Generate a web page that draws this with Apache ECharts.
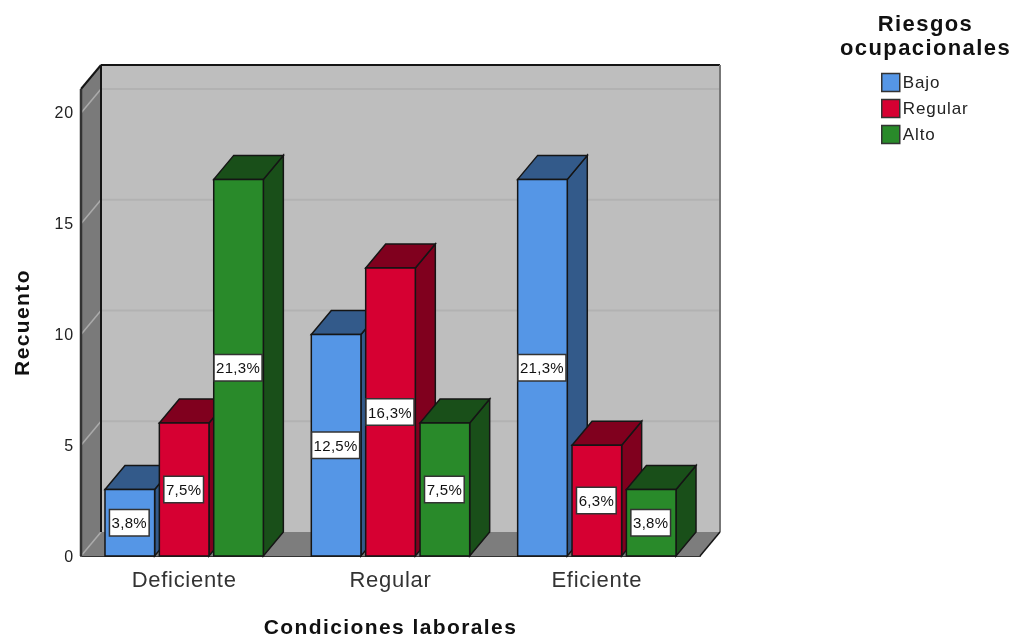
<!DOCTYPE html>
<html><head><meta charset="utf-8">
<style>
html,body{margin:0;padding:0;background:#fff}
#c{width:1012px;height:637px;filter:blur(0.4px)}
#c text[style*="22px"]{letter-spacing:.7px}
#c text[style*="17px"]{letter-spacing:.9px}
#c text[style*="16px"]{letter-spacing:.8px}
#c text[style*="15px"]{letter-spacing:.3px}
#c text[style*="bold"]{letter-spacing:1.4px}
#c text[style*="bold 22px"]{letter-spacing:.4px}
</style>
<script src="https://cdn.jsdelivr.net/npm/echarts@6/dist/echarts.min.js"></script>
</head><body><div id="c"></div>
<script>
const categories = ['Deficiente','Regular','Eficiente'];
const legendTitle = 'Riesgos\nocupacionales';
const xTitle = 'Condiciones laborales';
const yTitle = 'Recuento';
const yTicks = [0,5,10,15,20];
const seriesNames = ['Bajo','Regular','Alto'];
const bajo = [3,10,17];
const regular = [6,13,5];
const alto = [17,6,3];
const bajoPct = ['3,8%','12,5%','21,3%'];
const regularPct = ['7,5%','16,3%','6,3%'];
const altoPct = ['21,3%','7,5%','3,8%'];
const fronts = ['#5596E6','#D60032','#298A2A'];
const tops = ['#335A8A','#80001E','#194F19'];
const values = [bajo,regular,alto];
const pcts = [bajoPct,regularPct,altoPct];

const DX=20, DY=24, BAR=0.2405, PITCH=0.2635, LINE='#151515';
const font='"Liberation Sans", Arial, sans-serif';

function poly(points,fill,stroke,lw){
  return {type:'polygon',shape:{points},style:{fill,stroke:stroke||null,lineWidth:lw||0}};
}
function line(x1,y1,x2,y2,stroke,lw){
  return {type:'line',shape:{x1,y1,x2,y2},style:{stroke,lineWidth:lw}};
}
function renderWalls(params,api){
  const c=params.coordSys, l=c.x, r=c.x+c.width, t=c.y, b=c.y+c.height;
  const kids=[
    poly([[l+DX,t-DY],[r+DX,t-DY],[r+DX,b-DY],[l+DX,b-DY]],'#BEBEBE'),
    poly([[l,t],[l+DX,t-DY],[l+DX,b-DY],[l,b]],'#7A7A7A'),
    poly([[l,b],[l+DX,b-DY],[r+DX,b-DY],[r,b]],'#7D7D7D')
  ];
  yTicks.forEach(v=>{
    const y=api.coord([0,v])[1];
    if(v>0) kids.push(line(l+DX,y-DY,r+DX,y-DY,'#B2B2B2',2));
    kids.push(line(l,y,l+DX,y-DY,'#ABABAB',1.5));
  });
  kids.push(line(l+DX,t-DY,r+DX,t-DY,LINE,2));
  kids.push(line(l+DX,t-DY,l+DX,b-DY,LINE,2));
  kids.push(line(l,t,l+DX,t-DY,LINE,2));
  kids.push(line(l,t,l,b,'#333',2.5));
  kids.push(line(r+DX,t-DY,r+DX,b-DY,'#777',2));
  kids.push(line(r,b,r+DX,b-DY,LINE,1.5));
  return {type:'group',children:kids};
}
function barRender(si){
  return function(params,api){
    const cat=api.value(0), val=api.value(1);
    const top=api.coord([cat,val]), base=api.coord([cat,0]);
    const band=api.size([1,0])[0];
    const cx=top[0]+(si-1)*band*PITCH, w=band*BAR;
    const x0=cx-w/2, x1=cx+w/2, y0=top[1], y1=base[1];
    const st=LINE, lw=1.5;
    return {type:'group',children:[
      poly([[x1,y0],[x1+DX,y0-DY],[x1+DX,y1-DY],[x1,y1]],tops[si],st,lw),
      poly([[x0,y0],[x0+DX,y0-DY],[x1+DX,y0-DY],[x1,y0]],tops[si],st,lw),
      poly([[x0,y0],[x1,y0],[x1,y1],[x0,y1]],fronts[si],st,lw)
    ]};
  };
}
function labelRender(si){
  return function(params,api){
    const cat=api.value(0), val=api.value(1);
    const top=api.coord([cat,val]), base=api.coord([cat,0]);
    const band=api.size([1,0])[0];
    const cx=top[0]+(si-1)*band*PITCH;
    return {type:'text',style:{
      x:cx-0.5,y:(top[1]+base[1])/2,text:pcts[si][params.dataIndex],
      align:'center',verticalAlign:'middle',
      font:'15px '+font,fill:'#111',
      backgroundColor:'#fff',borderColor:'#333',borderWidth:1.5,padding:[5,2,5,2]
    }};
  };
}
const series=[{type:'custom',name:'_walls',z:1,silent:true,renderItem:renderWalls,data:[[0,0]],encode:{x:0,y:1}}];
seriesNames.forEach((n,si)=>{
  series.push({type:'custom',name:n,z:2+si,renderItem:barRender(si),
    itemStyle:{color:fronts[si],borderColor:'#333',borderWidth:1.5},
    encode:{x:0,y:1},data:values[si].map((v,i)=>[i,v])});
});
seriesNames.forEach((n,si)=>{
  series.push({type:'custom',name:'_lab'+si,z:10,silent:true,renderItem:labelRender(si),
    encode:{x:0,y:1},data:values[si].map((v,i)=>[i,v])});
});
const chart=echarts.init(document.getElementById('c'),null,{renderer:'svg',width:1012,height:637});
chart.setOption({
  animation:false,backgroundColor:'#fff',
  title:{text:legendTitle,left:925.5,top:11,textAlign:'center',padding:0,
    textStyle:{fontFamily:font,fontSize:22,fontWeight:'bold',color:'#111',lineHeight:24}},
  legend:{data:seriesNames,orient:'vertical',left:881,top:72,padding:0,itemWidth:18,itemHeight:18,itemGap:5,itemStyle:{borderColor:'#333',borderWidth:1.5},
    icon:'rect',selectedMode:false,textStyle:{fontFamily:font,fontSize:17,color:'#222',lineHeight:18,padding:[3,0,0,-2]}},
  grid:{left:81,top:89,width:619,height:467,outerBoundsMode:'none'},
  xAxis:{type:'category',data:categories,
    axisLine:{lineStyle:{color:'#333',width:2}},axisTick:{show:false},
    axisLabel:{fontFamily:font,fontSize:22,color:'#333',margin:12},
    name:xTitle,nameLocation:'middle',nameGap:60,
    nameTextStyle:{fontFamily:font,fontSize:21,fontWeight:'bold',color:'#111'}},
  yAxis:{type:'value',min:0,max:21.08,interval:5,
    axisLine:{show:false},axisTick:{show:false},splitLine:{show:false},
    axisLabel:{fontFamily:font,fontSize:16,color:'#222',margin:7,showMaxLabel:false,
      formatter:v=>yTicks.includes(v)?String(v):''},
    name:yTitle,nameLocation:'middle',nameGap:49,nameRotate:90,
    nameTextStyle:{fontFamily:font,fontSize:21,fontWeight:'bold',color:'#111'}},
  series
});
</script></body></html>
